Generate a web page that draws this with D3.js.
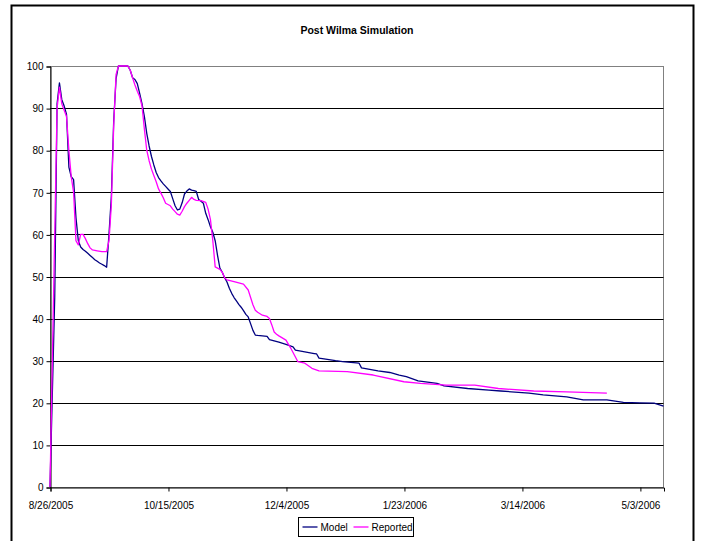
<!DOCTYPE html>
<html>
<head>
<meta charset="utf-8">
<script src="https://cdn.jsdelivr.net/npm/d3@7"></script>
<style>
  html, body { margin: 0; padding: 0; background: #fff; }
  svg { display: block; font-family: "Liberation Sans", Arial, sans-serif; }
</style>
</head>
<body>
<svg id="chart" width="706" height="541"></svg>
<script>
// ---------------- data ----------------
const chartTitle = "Post Wilma Simulation";
const startDateLabel = "8/26/2005";
const axisEndDay = 260; // last day shown on the axis (5/13/2006)
const xTickLabels = ["8/26/2005", "10/15/2005", "12/4/2005", "1/23/2006", "3/14/2006", "5/3/2006"];
const yTickValues = [0, 10, 20, 30, 40, 50, 60, 70, 80, 90, 100];
const seriesNames = ["Model", "Reported"];

// days after 8/26/2005, and values
const modelDays = [0, 2, 3, 4, 5, 6, 7, 8, 9, 10, 11, 12, 13, 14, 15, 16, 17, 18, 19, 20, 21, 22, 23, 24,
  25, 26, 27, 28, 29, 33, 34, 35, 36, 37, 38, 39, 40, 41, 42, 43, 44, 45, 46, 47, 48, 49, 50, 51, 52, 53, 54,
  55, 56, 57, 58, 59, 60, 61, 62, 63, 64, 65, 66, 67, 68, 69, 70, 71, 72, 73, 74, 75, 76, 77, 78, 79, 80,
  81, 82, 83, 84, 85, 86, 87, 88, 90, 92, 93, 95, 97, 100, 103, 104, 108, 112, 113, 114, 121, 124, 131, 132,
  139, 144, 148, 151, 156, 164, 167, 177, 186, 191, 203, 209, 219, 226, 236, 243, 250, 256, 260];
const modelValues = [0, 45, 91, 96, 92, 90.5, 88.5, 76, 73.7, 73, 64, 58.5, 57, 56.4, 56, 55.5, 55, 54.5, 54, 53.6, 53.2, 52.9, 52.6, 52.2,
  60, 69, 87, 97, 100, 100, 99, 97.2, 96.8, 95.8, 93.5, 91, 88, 84, 81, 78.5, 76.5, 74.7, 73.5, 72.7, 72, 71.4, 70.8, 70.2, 68.5, 66.8, 65.8,
  66, 67.5, 69.6, 70.3, 70.8, 70.5, 70.4, 70.2, 68.3, 67.9, 67.4, 65, 63.5, 61.8, 60.5, 58.5, 55, 52, 51, 49.7, 48.7, 47.2, 46, 45, 44.2, 43.4,
  42.7, 41.9, 41, 40.4, 38.8, 37.2, 36.1, 36, 35.9, 35.8, 35, 34.7, 34.4, 33.9, 33.3, 32.5, 32.1, 31.7, 31.6, 30.6, 30, 29.8, 29.4, 28.3,
  27.6, 27.2, 26.6, 26.2, 25.2, 24.6, 24, 23.4, 23, 22.8, 22.3, 21.9, 21.4, 20.7, 20.7, 20.1, 20, 19.9, 19.2];

const reportedDays = [0, 3, 4, 5, 6, 7, 8, 9, 10, 11, 12, 13, 14, 15, 16, 17, 18, 20, 22, 24, 25, 26, 27, 28, 29,
  33, 34, 35, 36, 37, 38, 39, 40, 41, 42, 43, 44, 45, 46, 47, 48, 49, 50, 51, 52, 53, 54, 55, 56, 57, 58, 59, 60,
  61, 62, 64, 66, 67, 68, 69, 70, 71, 72, 73, 74, 75, 78, 82, 84, 86, 87, 88, 90, 92, 93, 94, 95, 96, 97, 100,
  102, 105, 108, 111, 114, 126, 137, 150, 157, 168, 180, 190, 205, 219, 236];
const reportedValues = [0, 90, 95, 91, 89.5, 88, 80, 73.7, 70, 58.5, 57.5, 60, 60, 59, 57.8, 56.8, 56.3, 56.1, 55.9, 55.9, 58.5, 67, 86, 98, 100,
  100, 99, 97.2, 95.5, 94, 92.7, 90.5, 85, 80, 77.5, 75.5, 74, 72.5, 70.8, 69.8, 68.7, 67.4, 67.1, 66.8, 66, 65.4, 64.8, 64.6, 65.5, 66.6, 67.4, 68.1, 68.8,
  68.3, 68.1, 68, 67.6, 66, 63.5, 58.5, 52.3, 52, 51.7, 51, 49.7, 49.2, 48.8, 48.2, 46.8, 43.3, 42, 41.5, 40.8, 40.5, 40, 38.5, 36.8, 36.3, 35.9, 34.9,
  33, 29.8, 29.4, 28.2, 27.6, 27.4, 26.6, 25, 24.6, 24.2, 24.2, 23.4, 22.8, 22.6, 22.3];

// ---------------- drawing ----------------
const svg = d3.select("#chart");
const W = 706, H = 541;
const plot = { left: 50, top: 66, right: 663.5, bottom: 487 };
const parseDate = d3.timeParse("%m/%d/%Y");
const startDate = parseDate(startDateLabel);
const dayToDate = d => d3.timeDay.offset(startDate, d);

const x = d3.scaleTime()
  .domain([startDate, dayToDate(axisEndDay)])
  .range([plot.left, plot.right]);
const y = d3.scaleLinear().domain([0, 100]).range([plot.bottom, plot.top]);

// outer chart border
svg.append("rect")
  .attr("x", 11.5).attr("y", 5.5)
  .attr("width", 682).attr("height", 545)
  .attr("fill", "#fff").attr("stroke", "#000").attr("stroke-width", 2);

// title
svg.append("text")
  .attr("x", 357).attr("y", 34)
  .attr("text-anchor", "middle")
  .attr("font-size", "10.5px").attr("font-weight", "bold")
  .text(chartTitle);

// plot area background + border (gray)
svg.append("rect")
  .attr("x", plot.left).attr("y", plot.top)
  .attr("width", plot.right - plot.left).attr("height", plot.bottom - plot.top)
  .attr("fill", "#fff").attr("stroke", "#808080").attr("stroke-width", 1)
  .attr("shape-rendering", "crispEdges");

// horizontal gridlines
svg.append("g")
  .selectAll("line")
  .data(yTickValues.filter(v => v > 0 && v < 100))
  .join("line")
  .attr("x1", plot.left).attr("x2", plot.right)
  .attr("y1", d => Math.round(y(d)) + 0.5).attr("y2", d => Math.round(y(d)) + 0.5)
  .attr("stroke", "#000").attr("stroke-width", 1);

// y axis
const yAxis = d3.axisLeft(y).tickValues(yTickValues).tickSize(4).tickPadding(3).tickFormat(d3.format("d"));
const gy = svg.append("g").attr("transform", `translate(${plot.left + 0.5},0.5)`).call(yAxis);
gy.select(".domain").attr("stroke", "#000");
gy.selectAll(".tick line").attr("stroke", "#000");
gy.selectAll("text").attr("font-size", "10px").attr("fill", "#000")
  .attr("font-family", "Liberation Sans, Arial, sans-serif");

// x axis
const xTickDates = xTickLabels.map(parseDate);
const xAxis = d3.axisBottom(x).tickValues(xTickDates).tickSize(4).tickPadding(10)
  .tickFormat((d, i) => xTickLabels[i]);
const gx = svg.append("g").attr("transform", `translate(0.5,${plot.bottom + 0.5})`).call(xAxis);
gx.select(".domain").attr("stroke", "#000");
gx.selectAll(".tick line").attr("stroke", "#000");
gx.selectAll("text").attr("font-size", "10px").attr("fill", "#000")
  .attr("font-family", "Liberation Sans, Arial, sans-serif");

// lines
const line = d3.line().x(d => x(dayToDate(d[0]))).y(d => y(d[1]));
const modelData = modelDays.map((d, i) => [d, modelValues[i]]);
const reportedData = reportedDays.map((d, i) => [d, reportedValues[i]]);
const colors = { Model: "#000080", Reported: "#FF00FF" };

svg.append("path").datum(modelData)
  .attr("d", line).attr("fill", "none")
  .attr("stroke", colors.Model).attr("stroke-width", 1.3).attr("stroke-linejoin", "round");
svg.append("path").datum(reportedData)
  .attr("d", line).attr("fill", "none")
  .attr("stroke", colors.Reported).attr("stroke-width", 1.3).attr("stroke-linejoin", "round");

// legend
const lg = svg.append("g").attr("transform", "translate(298.5,517.5)");
lg.append("rect").attr("width", 115).attr("height", 19)
  .attr("fill", "#fff").attr("stroke", "#000").attr("stroke-width", 1);
const legendItems = [
  { name: seriesNames[0], x0: 4 },
  { name: seriesNames[1], x0: 55 }
];
legendItems.forEach(it => {
  lg.append("line").attr("x1", it.x0).attr("x2", it.x0 + 15).attr("y1", 9.5).attr("y2", 9.5)
    .attr("stroke", colors[it.name]).attr("stroke-width", 1.3);
  lg.append("text").attr("x", it.x0 + 18).attr("y", 13).attr("font-size", "10px").text(it.name);
});
</script>
</body>
</html>
